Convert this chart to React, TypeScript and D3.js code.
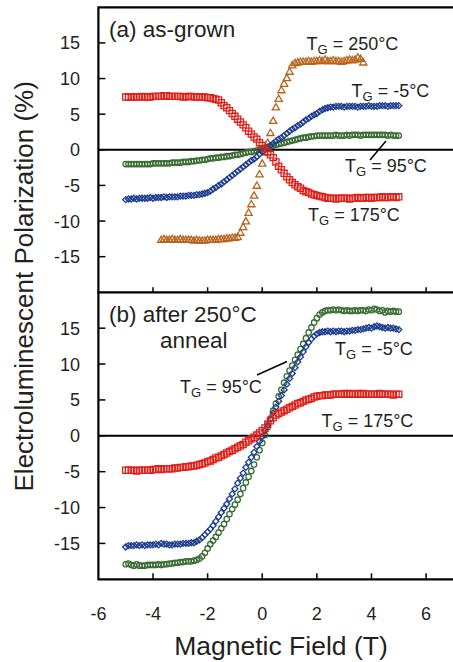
import React from "react";
import * as d3 from "d3";

// field sweep (T), shared by all traces
const field = [
  -5, -4.9, -4.8, -4.7, -4.6, -4.5, -4.4, -4.3, -4.2, -4.1,
  -4, -3.9, -3.8, -3.7, -3.6, -3.5, -3.4, -3.3, -3.2, -3.1,
  -3, -2.9, -2.8, -2.7, -2.6, -2.5, -2.4, -2.3, -2.2, -2.1,
  -2, -1.9, -1.8, -1.7, -1.6, -1.5, -1.4, -1.3, -1.2, -1.1,
  -1, -0.9, -0.8, -0.7, -0.6, -0.5, -0.4, -0.3, -0.2, -0.1,
  0, 0.1, 0.2, 0.3, 0.4, 0.5, 0.6, 0.7, 0.8, 0.9,
  1, 1.1, 1.2, 1.3, 1.4, 1.5, 1.6, 1.7, 1.8, 1.9,
  2, 2.1, 2.2, 2.3, 2.4, 2.5, 2.6, 2.7, 2.8, 2.9,
  3, 3.1, 3.2, 3.3, 3.4, 3.5, 3.6, 3.7, 3.8, 3.9,
  4, 4.1, 4.2, 4.3, 4.4, 4.5, 4.6, 4.7, 4.8, 4.9,
  5,
];
// the 250C sample was only swept -3.7..3.7 T
const field250 = field.slice(13, 88);

// (a) as-grown
const grown175 = [
  7.4, 7.4, 7.4, 7.4, 7.4, 7.4, 7.5, 7.4, 7.4, 7.4,
  7.5, 7.5, 7.5, 7.5, 7.6, 7.6, 7.5, 7.5, 7.5, 7.5,
  7.5, 7.4, 7.4, 7.5, 7.5, 7.4, 7.4, 7.4, 7.4, 7.4,
  7.3, 7.3, 7.2, 7.1, 7.0, 6.6, 6.2, 5.9, 5.5, 5.1,
  4.7, 4.3, 3.9, 3.5, 3.1, 2.6, 2.2, 1.8, 1.5, 1.0,
  0.6, 0.2, -0.3, -0.7, -1.1, -1.7, -2.3, -2.8, -3.3, -3.8,
  -4.2, -4.6, -4.9, -5.2, -5.4, -5.7, -5.9, -6.0, -6.2, -6.3,
  -6.4, -6.5, -6.6, -6.7, -6.8, -6.8, -6.8, -6.9, -6.8, -6.8,
  -6.8, -6.8, -6.9, -6.8, -6.8, -6.7, -6.8, -6.8, -6.7, -6.7,
  -6.8, -6.7, -6.7, -6.7, -6.6, -6.7, -6.7, -6.6, -6.6, -6.7,
  -6.6,
];
const grownM5 = [
  -7.0, -6.9, -6.9, -6.8, -6.9, -6.8, -6.8, -6.8, -6.8, -6.7,
  -6.8, -6.7, -6.7, -6.7, -6.6, -6.7, -6.6, -6.6, -6.6, -6.6,
  -6.5, -6.5, -6.5, -6.4, -6.4, -6.4, -6.3, -6.3, -6.2, -6.1,
  -6.0, -5.8, -5.5, -5.3, -5.0, -4.8, -4.5, -4.2, -3.9, -3.6,
  -3.3, -3.0, -2.7, -2.4, -2.1, -1.8, -1.5, -1.3, -1.0, -0.6,
  -0.3, 0.0, 0.3, 0.6, 0.9, 1.2, 1.5, 1.7, 2.0, 2.3,
  2.6, 2.9, 3.1, 3.4, 3.6, 3.9, 4.2, 4.4, 4.7, 4.9,
  5.1, 5.4, 5.6, 5.8, 5.9, 6.0, 6.0, 6.1, 6.1, 6.1,
  6.0, 6.1, 6.1, 6.1, 6.1, 6.0, 6.1, 6.1, 6.1, 6.2,
  6.1, 6.1, 6.1, 6.2, 6.2, 6.2, 6.1, 6.2, 6.2, 6.2,
  6.2,
];
const grown95 = [
  -2.0, -2.0, -2.0, -2.0, -2.0, -2.0, -2.0, -2.0, -2.0, -2.0,
  -1.9, -1.9, -1.9, -1.9, -1.9, -1.9, -1.9, -1.8, -1.8, -1.8,
  -1.8, -1.7, -1.7, -1.7, -1.6, -1.6, -1.5, -1.5, -1.4, -1.4,
  -1.3, -1.2, -1.2, -1.1, -1.1, -1.0, -1.0, -0.9, -0.9, -0.8,
  -0.7, -0.7, -0.6, -0.5, -0.4, -0.3, -0.3, -0.2, -0.1, 0.0,
  0.1, 0.2, 0.4, 0.5, 0.6, 0.7, 0.8, 0.9, 1.0, 1.1,
  1.2, 1.3, 1.4, 1.5, 1.6, 1.7, 1.7, 1.8, 1.9, 1.9,
  2.0, 2.0, 2.0, 2.0, 2.0, 2.0, 2.0, 2.1, 2.0, 2.0,
  2.0, 2.1, 2.0, 2.1, 2.1, 2.1, 2.0, 2.1, 2.1, 2.1,
  2.1, 2.1, 2.1, 2.1, 2.1, 2.1, 2.0, 2.1, 2.0, 2.0,
  2.0,
];
const grown250 = [
  -12.7, -12.6, -12.7, -12.7, -12.6, -12.7, -12.7,
  -12.6, -12.7, -12.7, -12.7, -12.7, -12.8, -12.7, -12.8, -12.8, -12.8,
  -12.7, -12.7, -12.7, -12.7, -12.6, -12.6, -12.6, -12.5, -12.5, -12.4,
  -12.4, -12.3, -11.7, -10.9, -10.1, -8.9, -7.7, -6.5, -5.1, -3.5,
  -2.0, -0.4, 0.9, 2.3, 4.0, 5.9, 7.1, 8.3, 9.2, 10.0,
  10.9, 11.8, 12.1, 12.2, 12.3, 12.3, 12.3, 12.4, 12.3, 12.4,
  12.4, 12.5, 12.4, 12.6, 12.4, 12.4, 12.5, 12.4, 12.4, 12.3,
  12.4, 12.5, 12.6, 12.5, 12.6, 12.9, 12.7, 12.2,
];

// (b) after 250C anneal
const anneal95 = [
  -17.9, -17.8, -18.0, -18.1, -17.9, -18.1, -18.1, -18.1, -18.0, -18.0,
  -18.0, -18.0, -17.9, -18.0, -17.9, -17.9, -17.8, -17.8, -17.7, -17.7,
  -17.6, -17.6, -17.5, -17.5, -17.5, -17.4, -17.3, -17.1, -16.8, -16.3,
  -15.7, -15.1, -14.6, -14.1, -13.5, -12.9, -12.3, -11.6, -10.9, -10.2,
  -9.6, -8.9, -8.1, -7.3, -6.5, -5.7, -4.9, -4.0, -3.0, -2.0,
  -1.0, 0.1, 1.2, 2.4, 3.5, 4.5, 5.5, 6.4, 7.4, 8.3,
  9.1, 9.8, 10.6, 11.3, 12.1, 12.8, 13.6, 14.4, 15.1, 15.8,
  16.4, 16.9, 17.2, 17.4, 17.5, 17.5, 17.6, 17.5, 17.6, 17.5,
  17.4, 17.5, 17.4, 17.4, 17.5, 17.4, 17.5, 17.5, 17.4, 17.6,
  17.5, 17.7, 17.6, 17.4, 17.5, 17.2, 17.4, 17.3, 17.4, 17.3,
  17.3,
];
const annealM5 = [
  -15.5, -15.3, -15.3, -15.3, -15.2, -15.3, -15.2, -15.3, -15.2, -15.2,
  -15.2, -15.1, -15.2, -15.0, -15.1, -15.1, -15.2, -15.2, -15.1, -15.1,
  -15.1, -15.0, -15.0, -15.0, -14.9, -14.9, -14.7, -14.5, -14.2, -13.8,
  -13.4, -13.0, -12.5, -11.9, -11.3, -10.7, -10.1, -9.5, -8.8, -8.1,
  -7.4, -6.6, -5.9, -5.2, -4.4, -3.7, -3.0, -2.3, -1.5, -0.8,
  -0.1, 0.7, 1.5, 2.3, 3.2, 4.0, 4.8, 5.6, 6.4, 7.2,
  8.0, 8.7, 9.5, 10.3, 11.0, 11.7, 12.4, 13.0, 13.5, 13.9,
  14.2, 14.4, 14.5, 14.5, 14.6, 14.5, 14.6, 14.5, 14.6, 14.6,
  14.5, 14.6, 14.6, 14.7, 14.7, 14.8, 14.8, 14.9, 15.0, 15.1,
  15.0, 15.2, 15.3, 15.2, 15.1, 15.0, 15.1, 15.0, 15.0, 14.9,
  14.8,
];
const anneal175 = [
  -4.8, -4.8, -4.8, -4.8, -4.9, -4.8, -4.8, -4.8, -4.8, -4.8,
  -4.7, -4.7, -4.6, -4.7, -4.6, -4.6, -4.6, -4.6, -4.5, -4.5,
  -4.4, -4.4, -4.3, -4.3, -4.2, -4.2, -4.1, -4.0, -3.9, -3.8,
  -3.6, -3.5, -3.3, -3.1, -3.0, -2.8, -2.6, -2.4, -2.2, -2.0,
  -1.8, -1.6, -1.4, -1.2, -0.9, -0.7, -0.4, -0.2, 0.1, 0.4,
  0.7, 1.1, 1.6, 2.1, 2.5, 2.9, 3.1, 3.3, 3.5, 3.7,
  3.9, 4.1, 4.3, 4.5, 4.6, 4.8, 5.0, 5.1, 5.2, 5.4,
  5.5, 5.6, 5.6, 5.7, 5.7, 5.7, 5.8, 5.8, 5.8, 5.8,
  5.9, 5.8, 5.9, 5.8, 5.8, 5.9, 5.8, 5.9, 5.8, 5.8,
  5.8, 5.8, 5.8, 5.9, 5.8, 5.8, 5.8, 5.8, 5.7, 5.8,
  5.8,
];

const xTicks = [-6, -4, -2, 0, 2, 4, 6];
const yTicks = [-15, -10, -5, 0, 5, 10, 15];

const RED = "#e1201a";
const BLUE = "#1d3d8e";
const GREEN = "#3b6c35";
const BROWN = "#b8631c";
const INK = "#231f20";
const FONT = "'Liberation Sans', Arial, Helvetica, sans-serif";

const W = 453;
const H = 662;

const x = d3.scaleLinear().domain([-6, 7]).range([98.4, 453.4]);
const yA = d3.scaleLinear().domain([-20, 20]).range([292.3, 7.3]);
const yB = d3.scaleLinear().domain([-20, 20]).range([579.3, 292.3]);

const sym = {
  square: d3.symbol().type(d3.symbolSquare).size(38)(),
  diamond: d3.symbol().type(d3.symbolSquare).size(18)(),
  circle: d3.symbol().type(d3.symbolCircle).size(23)(),
  triangle: d3.symbol().type(d3.symbolTriangle).size(23)(),
};

function Trace({ xs, ys, y, shape, color }) {
  const rot = shape === "diamond" ? " rotate(45)" : "";
  return (
    <g fill="none" stroke={color} strokeWidth={1.3}>
      {ys.map((v, i) => (
        <path
          key={i}
          d={sym[shape]}
          transform={`translate(${x(xs[i])},${y(v)})${rot}`}
        />
      ))}
    </g>
  );
}

function TG({ px, py, rest }) {
  return (
    <text x={px} y={py} fontSize={18} fill={INK}>
      T<tspan fontSize={13} dy={4}>G</tspan>
      <tspan fontSize={18} dy={-4}>{rest}</tspan>
    </text>
  );
}

function YAxis({ y }) {
  return (
    <g>
      {yTicks.map((t) => (
        <g key={t}>
          <line x1={x(-6)} x2={x(-6) + 7} y1={y(t)} y2={y(t)} stroke="#000" strokeWidth={1.5} />
          <text x={80} y={y(t)} dy="0.36em" textAnchor="end" fontSize={18} fill={INK}>
            {t}
          </text>
        </g>
      ))}
      <line x1={x(-6)} x2={W + 5} y1={y(0)} y2={y(0)} stroke="#000" strokeWidth={2} />
    </g>
  );
}

export default function App() {
  const left = x(-6);
  return (
    <svg width={W} height={H} style={{ position: "absolute", left: 0, top: 0 }} fontFamily={FONT}>
      <rect width={W} height={H} fill="#fff" />

      {/* panel (a) */}
      <YAxis y={yA} />
      <Trace xs={field250} ys={grown250} y={yA} shape="triangle" color={BROWN} />
      <Trace xs={field} ys={grown95} y={yA} shape="circle" color={GREEN} />
      <Trace xs={field} ys={grownM5} y={yA} shape="diamond" color={BLUE} />
      <Trace xs={field} ys={grown175} y={yA} shape="square" color={RED} />

      {/* panel (b) */}
      <YAxis y={yB} />
      <Trace xs={field} ys={anneal95} y={yB} shape="circle" color={GREEN} />
      <Trace xs={field} ys={annealM5} y={yB} shape="diamond" color={BLUE} />
      <Trace xs={field} ys={anneal175} y={yB} shape="square" color={RED} />

      {/* frame */}
      <g stroke="#000" strokeWidth={2.2}>
        <line x1={left} x2={left} y1={yA(20)} y2={yB(-20)} />
        <line x1={left - 1} x2={W + 5} y1={yA(20)} y2={yA(20)} />
        <line x1={left - 1} x2={W + 5} y1={yA(-20)} y2={yA(-20)} />
        <line x1={left - 1} x2={W + 5} y1={yB(-20)} y2={yB(-20)} />
      </g>
      <g stroke="#000" strokeWidth={1.5}>
        {xTicks.slice(1).map((t) => (
          <g key={t}>
            <line x1={x(t)} x2={x(t)} y1={yA(-20)} y2={yA(-20) - 5} />
            <line x1={x(t)} x2={x(t)} y1={yB(-20)} y2={yB(-20) - 6} />
          </g>
        ))}
      </g>
      {xTicks.map((t) => (
        <text key={t} x={x(t)} y={620} textAnchor="middle" fontSize={18} fill={INK}>
          {t}
        </text>
      ))}

      {/* axis titles */}
      <text x={281} y={655} textAnchor="middle" fontSize={26.5} fill={INK}>
        Magnetic Field (T)
      </text>
      <text
        transform={`translate(33,${(yA(20) + yB(-20)) / 2 - 7}) rotate(-90)`}
        textAnchor="middle"
        fontSize={26}
        fill={INK}
      >
        Electroluminescent Polarization (%)
      </text>

      {/* annotations */}
      <text x={109} y={37} fontSize={22.5} fill={INK}>(a) as-grown</text>
      <TG px={306.5} py={50} rest=" = 250°C" />
      <TG px={351.5} py={96.5} rest=" = -5°C" />
      <TG px={345} py={172} rest=" = 95°C" />
      <TG px={308} py={221} rest=" = 175°C" />
      <line x1={370} y1={160} x2={386} y2={141} stroke="#000" strokeWidth={1.5} />

      <text x={109} y={321.5} fontSize={22.5} fill={INK}>(b) after 250°C</text>
      <text x={160} y={348} fontSize={22.5} fill={INK}>anneal</text>
      <TG px={335} py={355} rest=" = -5°C" />
      <TG px={180} py={393} rest=" = 95°C" />
      <TG px={321.5} py={426.5} rest=" = 175°C" />
      <line x1={257} y1={375} x2={287} y2={361.5} stroke="#000" strokeWidth={1.5} />
    </svg>
  );
}
